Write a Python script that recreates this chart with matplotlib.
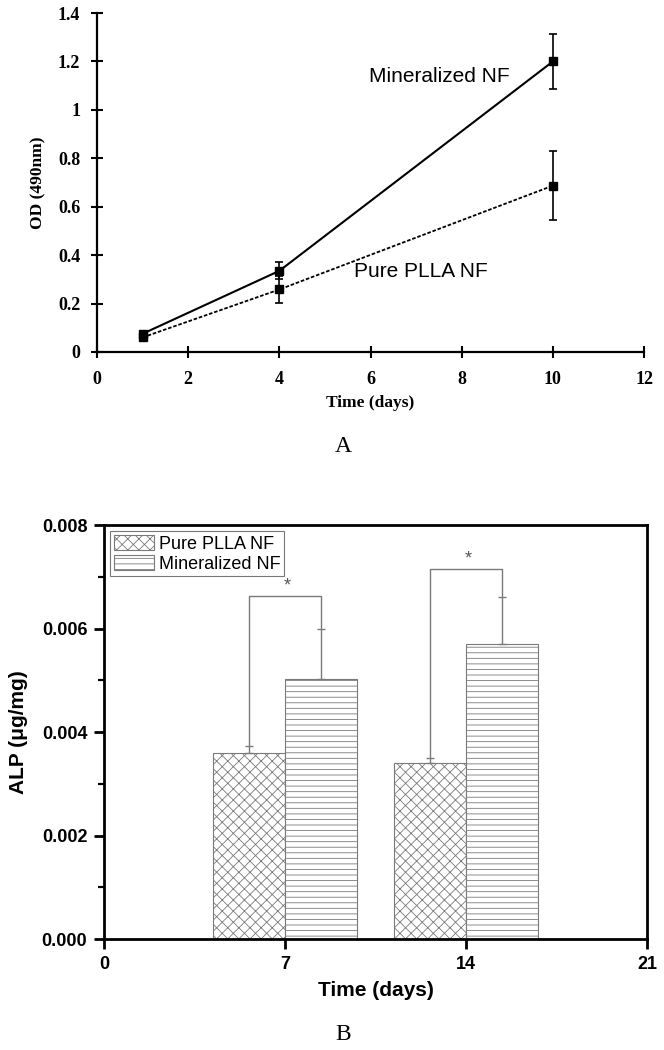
import matplotlib
matplotlib.use('Agg')
import matplotlib.pyplot as plt
import numpy as np

plt.rcParams['hatch.linewidth'] = 0.6

# panel A data
days_a = [1, 4, 10]
od_mineral = [0.075, 0.335, 1.20]
od_mineral_err = [0.01, 0.035, 0.115]
od_pure = [0.06, 0.258, 0.687]
od_pure_err = [0.01, 0.055, 0.143]

# panel B data
days_b = [7, 14]
alp_pure = [0.0036, 0.0034]
alp_pure_err = [0.00013, 0.00009]
alp_mineral = [0.00503, 0.0057]
alp_mineral_err = [0.00097, 0.0009]
bracket_y = [0.00663, 0.00715]
labels_b = ['Pure PLLA NF', 'Mineralized NF']

serif = 'Liberation Serif'
sans = 'Liberation Sans'
gray = '#7a7a7a'

fig = plt.figure(figsize=(6.64, 10.5), dpi=100)

# ---- panel A ----
axA = fig.add_axes([0.146, 0.6648, 0.824, 0.3228])
axA.errorbar(days_a, od_mineral, yerr=od_mineral_err, color='black', lw=1.5,
             marker='s', ms=6, capsize=3, elinewidth=1.2, capthick=1.2)
axA.errorbar(days_a, od_pure, yerr=od_pure_err, color='black', lw=1.3, ls=(0, (2, 1)),
             marker='s', ms=6, capsize=3, elinewidth=1.2, capthick=1.2)
axA.set_xlim(0, 12)
axA.set_ylim(0, 1.4)
axA.set_xticks(np.arange(0, 13, 2))
axA.set_yticks(np.arange(0, 1.41, 0.2))
axA.set_yticklabels(['0', '0.2', '0.4', '0.6', '0.8', '1', '1.2', '1.4'])
for s in ['top', 'right']:
    axA.spines[s].set_visible(False)
for s in ['left', 'bottom']:
    axA.spines[s].set_linewidth(1.6)
axA.tick_params(axis='x', direction='inout', length=8, width=1.5, pad=10)
axA.tick_params(axis='y', direction='inout', length=8, width=1.5, pad=8)
for lab in axA.get_xticklabels() + axA.get_yticklabels():
    lab.set_fontfamily(serif)
    lab.set_fontweight('bold')
    lab.set_fontsize(13)
axA.set_xlabel('Time (days)', fontfamily=serif, fontweight='bold', fontsize=12.5, labelpad=5)
axA.set_ylabel('OD (490nm)', fontfamily=serif, fontweight='bold', fontsize=12.5, labelpad=8)
axA.text(5.97, 1.137, 'Mineralized NF', fontfamily=sans, fontsize=15, va='center')
axA.text(5.64, 0.334, 'Pure PLLA NF', fontfamily=sans, fontsize=15, va='center')
fig.text(0.517, 0.575, 'A', fontfamily=serif, fontsize=17, ha='center', va='center')

# ---- panel B ----
axB = fig.add_axes([0.1566, 0.1057, 0.8178, 0.3943])
w = 2.8
x = np.array(days_b, dtype=float)
axB.bar(x, alp_pure, width=-w, align='edge', color='white', edgecolor=gray,
        hatch='xxx', lw=0.8, label=labels_b[0])
axB.bar(x, alp_mineral, width=w, align='edge', color='white', edgecolor=gray,
        hatch='---', lw=0.8, label=labels_b[1])
xp = x - w / 2
xm = x + w / 2
axB.errorbar(xp, alp_pure, yerr=[np.zeros(2), alp_pure_err], fmt='none',
             ecolor=gray, elinewidth=1, capsize=3, capthick=1)
axB.errorbar(xm, alp_mineral, yerr=[np.zeros(2), alp_mineral_err], fmt='none',
             ecolor=gray, elinewidth=1, capsize=3, capthick=1)
for i in range(len(x)):
    top_p = alp_pure[i] + alp_pure_err[i]
    top_m = alp_mineral[i] + alp_mineral_err[i]
    axB.plot([xp[i], xp[i], xm[i], xm[i]], [top_p, bracket_y[i], bracket_y[i], top_m],
             color=gray, lw=1)
    axB.text(x[i] + 0.1, bracket_y[i] + 0.00002, '*', ha='center', va='bottom',
             fontfamily=sans, fontsize=13, color='#555555', zorder=5)
axB.set_xlim(0, 21)
axB.set_ylim(0, 0.008)
axB.set_xticks([0, 7, 14, 21])
axB.set_yticks(np.arange(0, 0.0081, 0.002))
axB.set_yticks(np.arange(0.001, 0.008, 0.002), minor=True)
axB.set_yticklabels(['%.3f' % v for v in np.arange(0, 0.0081, 0.002)])
for s in axB.spines.values():
    s.set_linewidth(2)
axB.tick_params(axis='both', which='major', direction='out', length=7, width=2, pad=5)
axB.tick_params(axis='y', which='minor', direction='out', length=4, width=1.6)
for lab in axB.get_xticklabels() + axB.get_yticklabels():
    lab.set_fontfamily(sans)
    lab.set_fontweight('bold')
    lab.set_fontsize(13)
axB.set_xlabel('Time (days)', fontfamily=sans, fontweight='bold', fontsize=15, labelpad=6)
axB.set_ylabel('ALP (\u03bcg/mg)', fontfamily=sans, fontweight='bold', fontsize=15, labelpad=10)
leg = axB.legend(loc='upper left', prop={'family': sans, 'size': 13}, frameon=True,
                 fancybox=False, edgecolor='#555555', borderaxespad=0.35,
                 handlelength=2.2, handleheight=0.9, borderpad=0.2, labelspacing=0.12,
                 handletextpad=0.3)
leg.get_frame().set_linewidth(0.8)
leg.set_zorder(4)
fig.text(0.517, 0.0152, 'B', fontfamily=serif, fontsize=17, ha='center', va='center')

fig.savefig('out.png', dpi=100)
